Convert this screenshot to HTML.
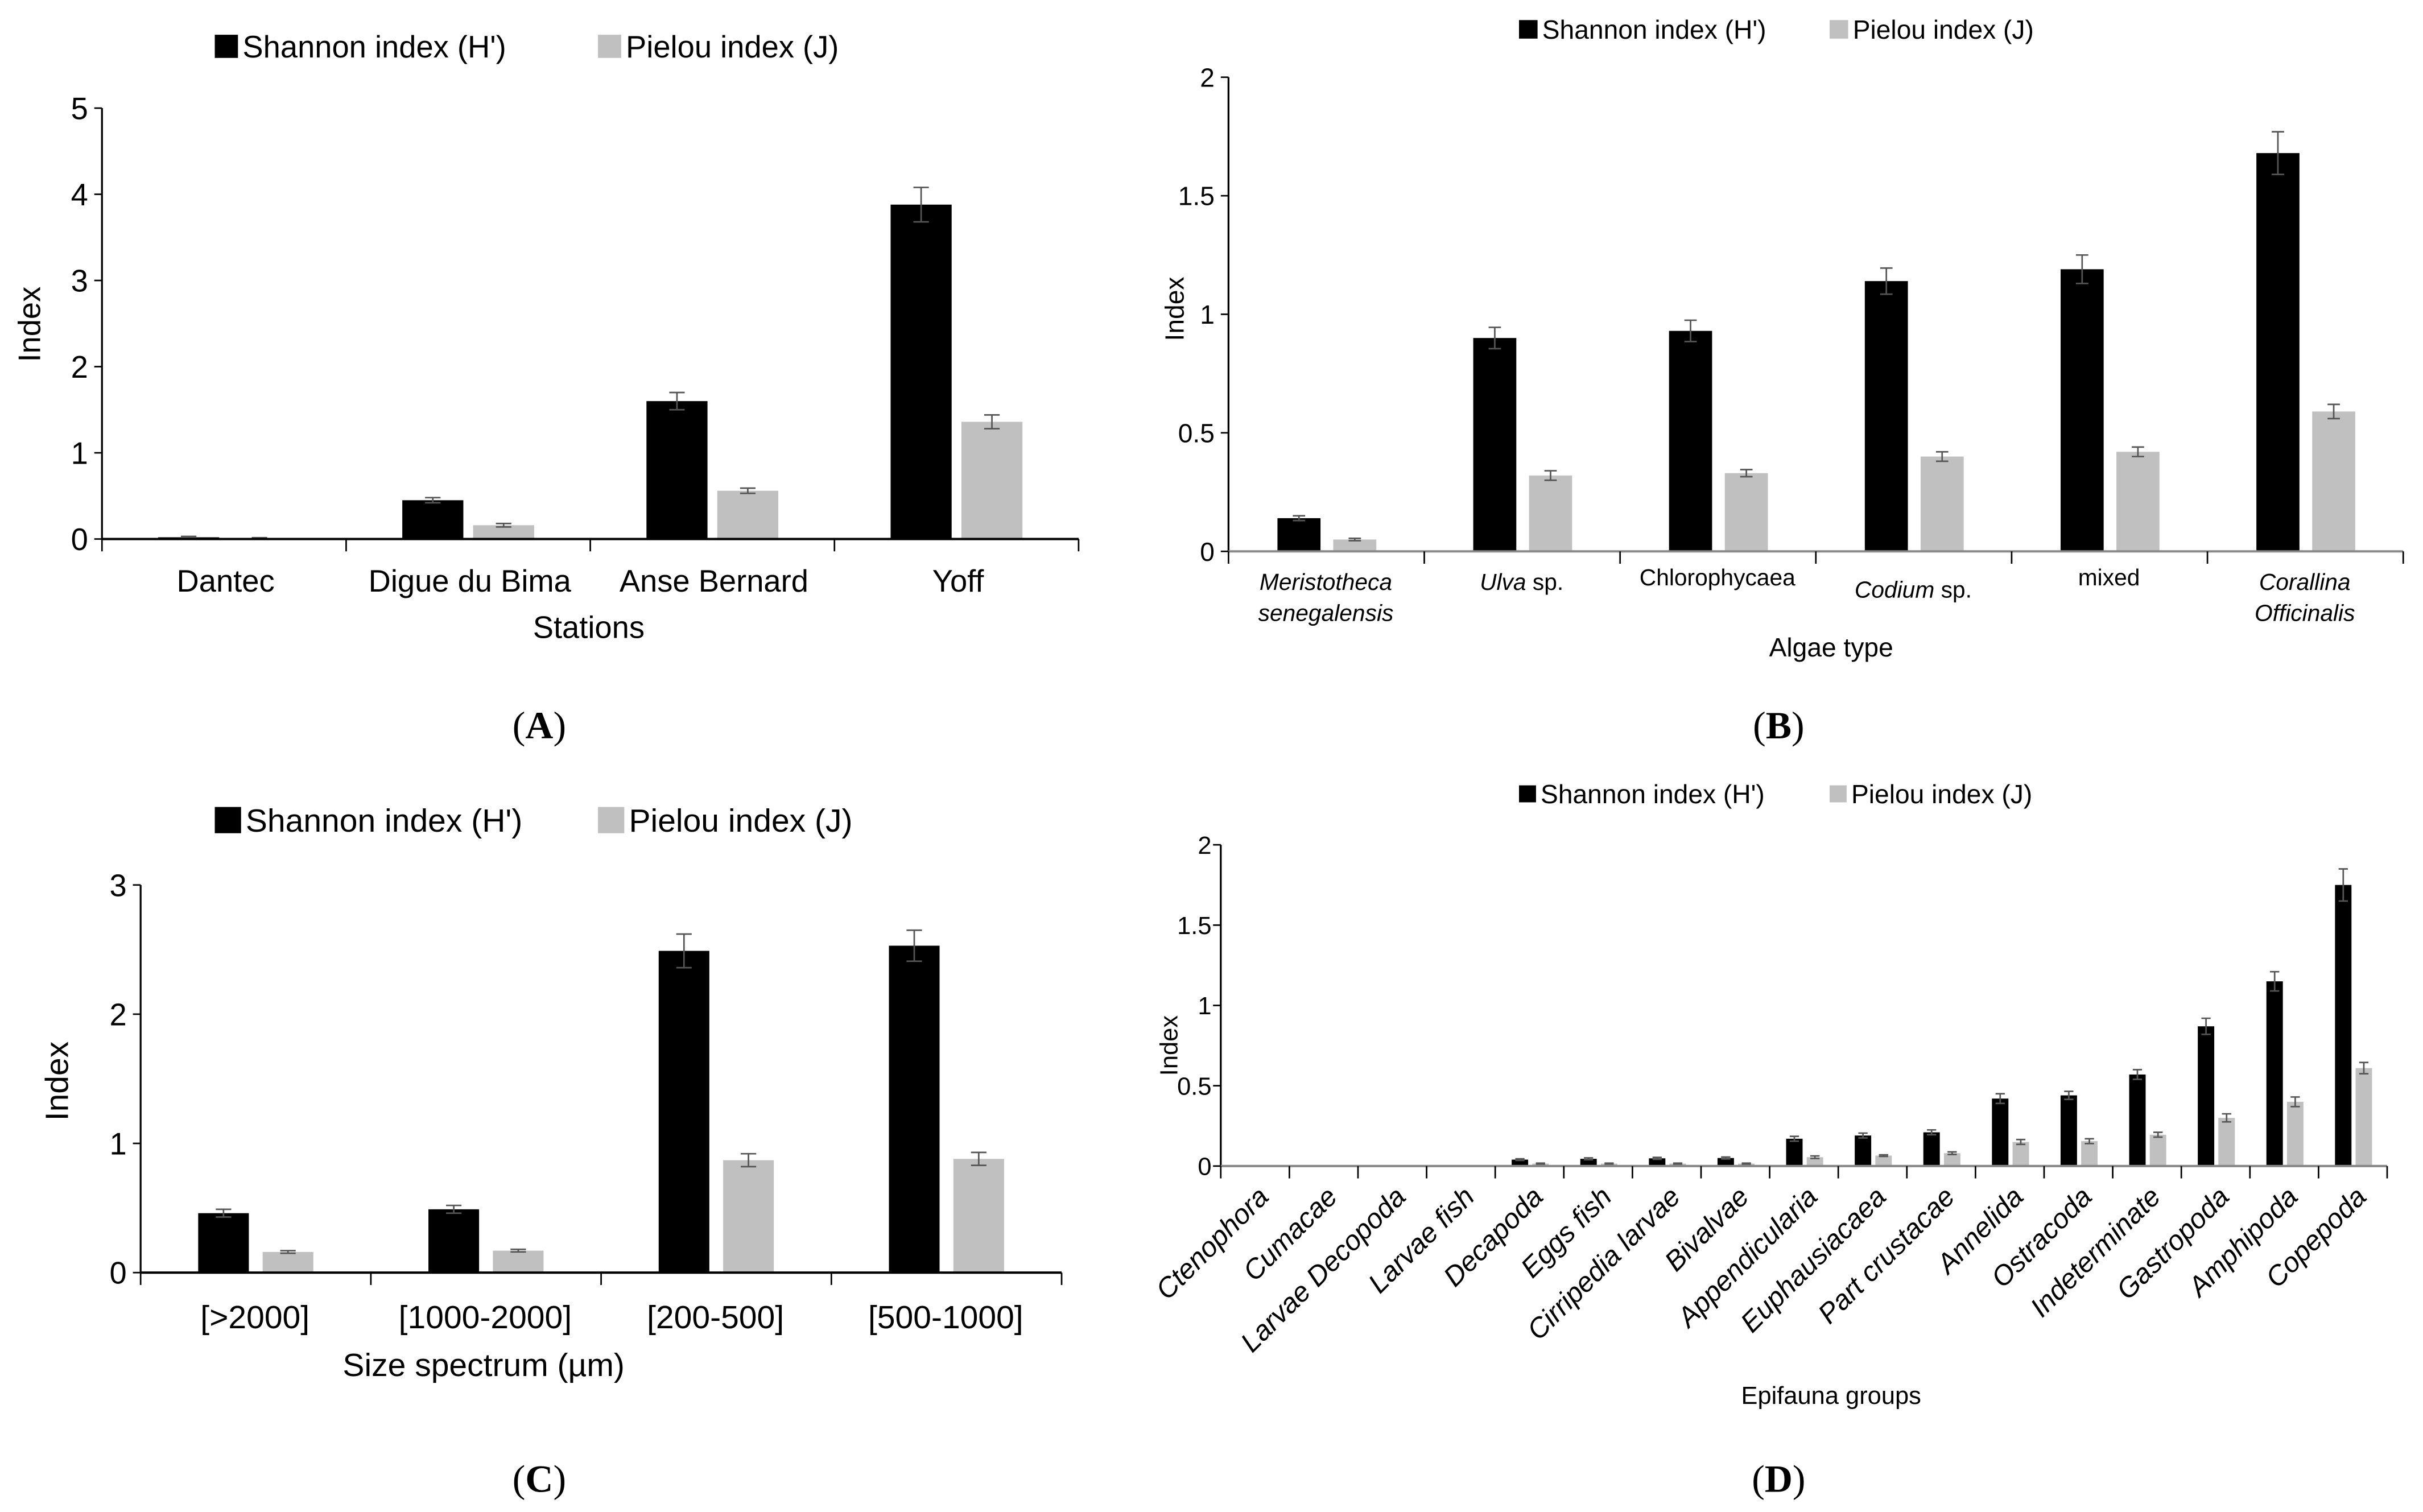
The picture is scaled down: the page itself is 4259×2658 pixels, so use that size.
<!DOCTYPE html>
<html><head><meta charset="utf-8"><style>
html,body{margin:0;padding:0;background:#fff;}
svg{display:block;font-family:"Liberation Sans",Arial,sans-serif;}
</style></head><body>
<svg id="fig" width="4259" height="2658" viewBox="0 0 1568 979" preserveAspectRatio="none" xmlns="http://www.w3.org/2000/svg">
</svg>
<script>
// ---- Panel A data ----
const catsA = ["Dantec","Digue du Bima","Anse Bernard","Yoff"];
const shanA = [0.02,0.45,1.6,3.88];
const shanErrA = [0.01,0.03,0.1,0.2];
const pielA = [0.01,0.16,0.56,1.36];
const pielErrA = [0.005,0.02,0.03,0.08];
const ticksA = [0,1,2,3,4,5];
// ---- Panel B data ----
const catsB = ["Meristotheca senegalensis","Ulva sp.","Chlorophycaea","Codium sp.","mixed","Corallina Officinalis"];
const shanB = [0.14,0.9,0.93,1.14,1.19,1.68];
const shanErrB = [0.01,0.045,0.045,0.055,0.06,0.09];
const pielB = [0.05,0.32,0.33,0.4,0.42,0.59];
const pielErrB = [0.005,0.02,0.015,0.02,0.02,0.03];
const ticksB = [0,0.5,1,1.5,2];
// ---- Panel C data ----
const catsC = ["[>2000]","[1000-2000]","[200-500]","[500-1000]"];
const shanC = [0.46,0.49,2.49,2.53];
const shanErrC = [0.03,0.03,0.13,0.12];
const pielC = [0.16,0.17,0.87,0.88];
const pielErrC = [0.01,0.01,0.05,0.05];
const ticksC = [0,1,2,3];
// ---- Panel D data ----
const catsD = ["Ctenophora","Cumacae","Larvae Decopoda","Larvae fish","Decapoda","Eggs fish","Cirripedia larvae","Bivalvae","Appendicularia","Euphausiacaea","Part crustacae","Annelida","Ostracoda","Indeterminate","Gastropoda","Amphipoda","Copepoda"];
const shanD = [0.006,0.006,0.006,0.006,0.04,0.045,0.048,0.05,0.17,0.19,0.21,0.42,0.44,0.57,0.87,1.15,1.75];
const shanErrD = [0,0,0,0,0.005,0.006,0.006,0.006,0.015,0.015,0.015,0.03,0.025,0.03,0.05,0.06,0.1];
const pielD = [0.006,0.006,0.006,0.006,0.015,0.015,0.015,0.015,0.055,0.065,0.08,0.15,0.155,0.195,0.3,0.4,0.61];
const pielErrD = [0,0,0,0,0.003,0.003,0.003,0.003,0.008,0.005,0.008,0.015,0.015,0.015,0.025,0.03,0.035];
const ticksD = [0,0.5,1,1.5,2];

const NS="http://www.w3.org/2000/svg";
const svg=document.getElementById('fig');
function mk(tag,attrs,parent){const e=document.createElementNS(NS,tag);for(const k in attrs)e.setAttribute(k,attrs[k]);(parent||svg).appendChild(e);return e;}

function chart(o){
  const g=mk('g',{});
  
  
  const y=v=>o.y0-(v/o.ymax)*(o.y0-o.ytop);
  const xs=i=>o.x0+i*o.cw;
  const n=o.cats.length;
  const ya=mk('line',{x1:o.x0,y1:o.y0,x2:o.x0,y2:o.ytop,stroke:'#000','stroke-width':1.2},g);
  
  
  o.ticks.forEach(t=>{
    mk('line',{x1:o.x0-5,x2:o.x0,y1:y(t),y2:y(t),stroke:'#000','stroke-width':1},g);
    const tl=mk('text',{x:o.x0-(o.tgap||9),y:y(t)+o.tf*0.36,'font-size':o.tf,'text-anchor':'end',fill:'#000'},g);
    tl.textContent=String(t);
    
    
  });
  for(let i=0;i<n;i++){
    const cx=xs(i);
    const b1=o.b1[0]*o.cw,b1w=(o.b1[1]-o.b1[0])*o.cw;
    const b2=o.b2[0]*o.cw,b2w=(o.b2[1]-o.b2[0])*o.cw;
    const r1=mk('rect',{x:cx+b1,y:y(o.s[i]),width:b1w,height:o.y0-y(o.s[i]),fill:'#000'},g);
    
    
    const r2=mk('rect',{x:cx+b2,y:y(o.p[i]),width:b2w,height:o.y0-y(o.p[i]),fill:'#c0c0c0'},g);
    
    
    [[cx+b1+b1w/2,o.s[i],o.se[i]],[cx+b2+b2w/2,o.p[i],o.pe[i]]].forEach(([ex,v,e])=>{
      if(e<=0)return;
      const w=o.cap;
      mk('path',{d:`M${ex},${y(v+e)}V${y(v-e)}M${ex-w},${y(v+e)}H${ex+w}M${ex-w},${y(v-e)}H${ex+w}`,stroke:'#555','stroke-width':1,fill:'none'},g);
    });
  }
  const xa=mk('line',{x1:o.x0,y1:o.y0,x2:o.x0+n*o.cw,y2:o.y0,stroke:o.axc||'#000','stroke-width':1.5},g);
  
  
  for(let i=0;i<=n;i++) mk('line',{x1:xs(i),x2:xs(i),y1:o.y0,y2:o.y0+8,stroke:'#000','stroke-width':1},g);
  return {g,y,xs};
}

function txt(x,y,s,size,attrs,name){
  const t=mk('text',Object.assign({x:x,y:y,'font-size':size,fill:'#000'},attrs||{}));
  t.textContent=s;
  
  
  return t;
}
function legend(x1,x2,y,sq,size,name){
  const r1=mk('rect',{x:x1,y:y-sq/2,width:sq,height:sq,fill:'#000'});
  
  
  txt(x1+sq+3,y+size*0.36,"Shannon index (H')",size,{},name+'-shannon-label');
  const r2=mk('rect',{x:x2,y:y-sq/2,width:sq,height:sq,fill:'#c0c0c0'});
  
  
  txt(x2+sq+3,y+size*0.36,"Pielou index (J)",size,{},name+'-pielou-label');
}
const serif={'font-family':'"Liberation Serif",serif','text-anchor':'middle'};

// Panel A
const A=chart({name:'chart-a',cats:catsA,s:shanA,se:shanErrA,p:pielA,pe:pielErrA,ticks:ticksA,ymax:5,x0:66,y0:349,ytop:70,cw:158,b1:[0.23,0.48],b2:[0.52,0.77],cap:5,tf:20});
catsA.forEach((c,i)=>txt(A.xs(i)+80,383,c,20,{'text-anchor':'middle'},'x-tick-label'));
txt(381,413,"Stations",20,{'text-anchor':'middle'},'x-axis-title-a');
txt(26,210,"Index",20,{'text-anchor':'middle',transform:'rotate(-90 26 210)'},'y-axis-title-a');
legend(139,387,30,15,20,'legend-a');
const la=txt(349,478,"",25,serif,'panel-label-a');la.innerHTML='(<tspan font-weight="bold">A</tspan>)';

// Panel B
const B=chart({name:'chart-b',cats:catsB,s:shanB,se:shanErrB,p:pielB,pe:pielErrB,ticks:ticksB,ymax:2,x0:795,y0:357,ytop:50,cw:126.7,b1:[0.25,0.47],b2:[0.535,0.755],cap:4,tf:17,axc:'#888'});
const labB=[
 [['<tspan font-style="italic">Meristotheca</tspan>',0],['<tspan font-style="italic">senegalensis</tspan>',20]],
 [['<tspan font-style="italic">Ulva</tspan> sp.',0]],
 [['Chlorophycaea',-3]],
 [['<tspan font-style="italic">Codium</tspan> sp.',5]],
 [['mixed',-3]],
 [['<tspan font-style="italic">Corallina</tspan>',0],['<tspan font-style="italic">Officinalis</tspan>',20]]
];
labB.forEach((ls,i)=>ls.forEach(([h,dy])=>{const t=txt(B.xs(i)+63,382+dy,"",15,{'text-anchor':'middle'},'x-tick-label');t.innerHTML=h;}));
txt(1185,425,"Algae type",17,{'text-anchor':'middle'},'x-axis-title-b');
txt(766,200,"Index",17,{'text-anchor':'middle',transform:'rotate(-90 766 200)'},'y-axis-title-b');
legend(983,1184,19,12,17,'legend-b');
const lb=txt(1151,478,"",25,serif,'panel-label-b');lb.innerHTML='(<tspan font-weight="bold">B</tspan>)';

// Panel C
const C=chart({name:'chart-c',cats:catsC,s:shanC,se:shanErrC,p:pielC,pe:pielErrC,ticks:ticksC,ymax:3,x0:91,y0:824,ytop:573,cw:149,b1:[0.25,0.47],b2:[0.53,0.75],cap:5,tf:20});
catsC.forEach((c,i)=>txt(C.xs(i)+74,860,c,21,{'text-anchor':'middle'},'x-tick-label'));
txt(313,891,"Size spectrum (µm)",21,{'text-anchor':'middle'},'x-axis-title-c');
txt(44,700,"Index",21,{'text-anchor':'middle',transform:'rotate(-90 44 700)'},'y-axis-title-c');
legend(139,387,531,17,21,'legend-c');
const lc=txt(349,966,"",25,serif,'panel-label-c');lc.innerHTML='(<tspan font-weight="bold">C</tspan>)';

// Panel D
const D=chart({name:'chart-d',cats:catsD,s:shanD,se:shanErrD,p:pielD,pe:pielErrD,ticks:ticksD,ymax:2,x0:790,y0:755,ytop:547,cw:44.4,b1:[0.24,0.48],b2:[0.54,0.78],cap:3,tf:16,tgap:6,axc:'#888'});
catsD.forEach((c,i)=>{const x=D.xs(i)+32,yy=776;txt(x,yy,c,18,{'text-anchor':'end','font-style':'italic',transform:`rotate(-45 ${x} ${yy})`},'x-tick-label');});
txt(1185,909,"Epifauna groups",16,{'text-anchor':'middle'},'x-axis-title-d');
txt(762,677,"Index",16,{'text-anchor':'middle',transform:'rotate(-90 762 677)'},'y-axis-title-d');
legend(983,1184,514,11,17,'legend-d');
const ld=txt(1151,966,"",25,serif,'panel-label-d');ld.innerHTML='(<tspan font-weight="bold">D</tspan>)';
</script>
</body></html>
